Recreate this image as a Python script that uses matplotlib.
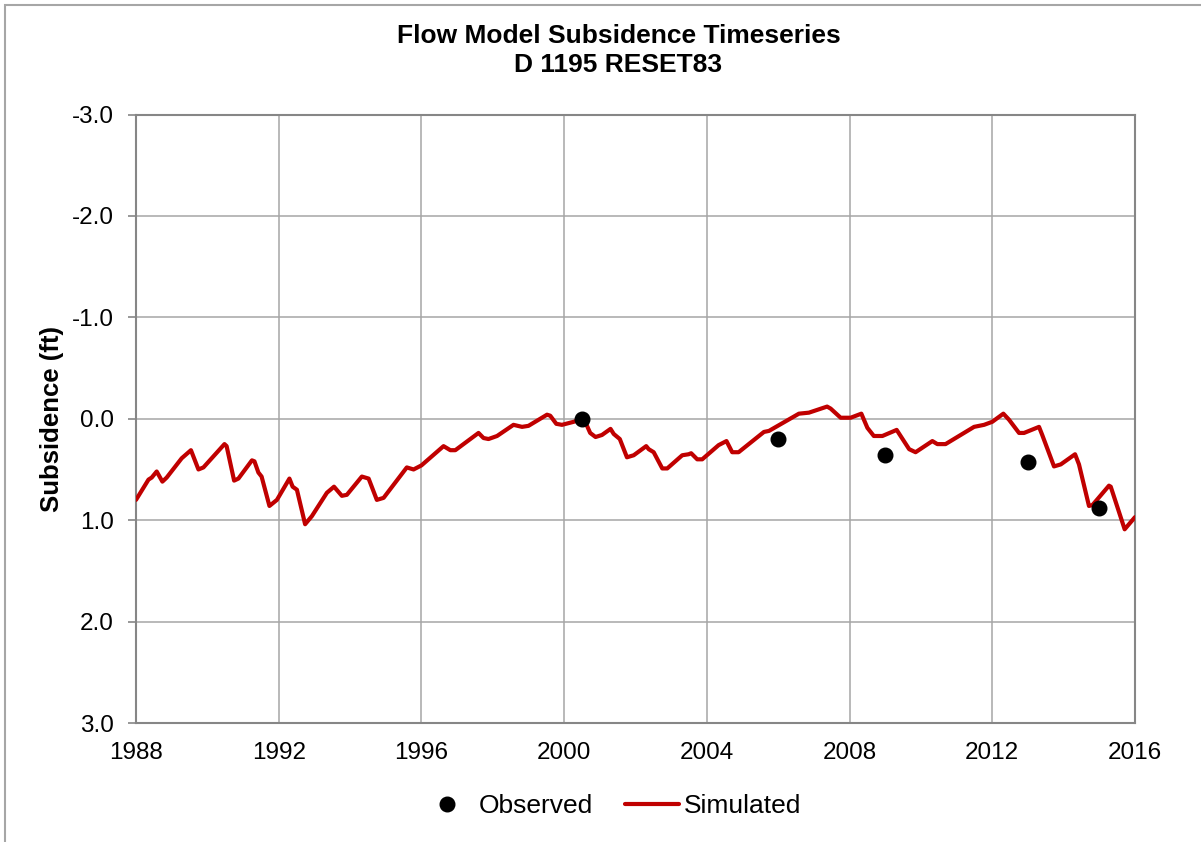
import matplotlib.pyplot as plt
from matplotlib.patches import Rectangle
from matplotlib.ticker import FormatStrFormatter

plt.rcParams['font.family'] = ['Liberation Sans', 'DejaVu Sans']

# simulated subsidence (decimal year, ft)
sim_year = [1988.0, 1988.35, 1988.44, 1988.58, 1988.74, 1988.86, 1989.28, 1989.54,
            1989.75, 1989.89, 1990.48, 1990.54, 1990.75, 1990.87, 1991.25, 1991.32,
            1991.43, 1991.52, 1991.74, 1991.95, 1992.30, 1992.39, 1992.51, 1992.74,
            1992.93, 1993.35, 1993.55, 1993.77, 1993.91, 1994.33, 1994.52, 1994.75,
            1994.94, 1995.59, 1995.78, 1996.0, 1996.62, 1996.81, 1996.95, 1997.60,
            1997.74, 1997.88, 1998.12, 1998.58, 1998.82, 1999.0, 1999.52, 1999.61,
            1999.78, 1999.94, 2000.27, 2000.50, 2000.59, 2000.73, 2000.88, 2001.06,
            2001.30, 2001.39, 2001.56, 2001.76, 2001.95, 2002.30, 2002.37, 2002.51,
            2002.75, 2002.89, 2003.31, 2003.49, 2003.56, 2003.73, 2003.87, 2004.33,
            2004.55, 2004.71, 2004.89, 2005.60, 2005.74, 2006.58, 2006.86, 2007.37,
            2007.47, 2007.75, 2008.03, 2008.33, 2008.50, 2008.68, 2008.92, 2009.32,
            2009.67, 2009.85, 2010.32, 2010.46, 2010.69, 2011.49, 2011.77, 2012.00,
            2012.31, 2012.47, 2012.75, 2012.89, 2013.31, 2013.40, 2013.73, 2013.92,
            2014.32, 2014.43, 2014.71, 2014.81, 2015.27, 2015.32, 2015.71, 2016.0]
sim_val = [0.80, 0.60, 0.58, 0.52, 0.62, 0.58, 0.39, 0.31,
           0.50, 0.48, 0.25, 0.27, 0.61, 0.59, 0.41, 0.42,
           0.53, 0.57, 0.86, 0.80, 0.59, 0.67, 0.70, 1.04,
           0.96, 0.73, 0.67, 0.76, 0.75, 0.57, 0.59, 0.80,
           0.78, 0.48, 0.50, 0.46, 0.27, 0.31, 0.31, 0.14,
           0.19, 0.20, 0.17, 0.06, 0.08, 0.07, -0.04, -0.03,
           0.05, 0.06, 0.03, 0.00, 0.03, 0.14, 0.18, 0.16,
           0.10, 0.15, 0.20, 0.38, 0.36, 0.27, 0.30, 0.33,
           0.49, 0.49, 0.36, 0.35, 0.34, 0.40, 0.40, 0.26,
           0.22, 0.33, 0.33, 0.13, 0.12, -0.05, -0.06, -0.12,
           -0.10, -0.01, -0.01, -0.05, 0.09, 0.17, 0.17, 0.11,
           0.30, 0.33, 0.22, 0.25, 0.25, 0.08, 0.06, 0.03,
           -0.05, 0.01, 0.14, 0.14, 0.08, 0.16, 0.47, 0.45,
           0.35, 0.45, 0.86, 0.85, 0.66, 0.67, 1.09, 0.97]

# observed survey points
obs_year = [2000.5, 2006.0, 2009.0, 2013.0, 2015.0]
obs_val = [0.00, 0.20, 0.36, 0.43, 0.88]

x_ticks = list(range(1988, 2017, 4))
y_ticks = [-3, -2, -1, 0, 1, 2, 3]

fig = plt.figure(figsize=(12.01, 8.42), dpi=100)
ax = fig.add_axes([136 / 1201, 1 - 723 / 842, 999 / 1201, 608.5 / 842])

# outer chart frame (only left/top edges show in the crop)
fig.patches.append(Rectangle((5 / 1201, -0.1), 2.0, 1.1 - 5 / 842, transform=fig.transFigure,
                             fill=False, edgecolor='#a6a6a6', linewidth=1.5))

ax.plot(obs_year, obs_val, 'o', color='black', markersize=10.5, label='Observed', zorder=4)
ax.plot(sim_year, sim_val, color='#c00000', linewidth=3.0, solid_joinstyle='round',
        solid_capstyle='round', label='Simulated', zorder=3)

ax.set_xlim(1988, 2016)
ax.set_ylim(3, -3)
ax.set_xticks(x_ticks)
ax.set_yticks(y_ticks)
ax.yaxis.set_major_formatter(FormatStrFormatter('%.1f'))
ax.grid(True, color='#a6a6a6', linewidth=1.1)
ax.set_axisbelow(True)
for s in ax.spines.values():
    s.set_color('#868686')
    s.set_linewidth(1.5)

ax.tick_params(axis='x', length=0, pad=14, labelsize=17.5)
ax.tick_params(axis='y', length=6, width=1.2, color='#868686', pad=10, labelsize=17.5)

ax.set_ylabel('Subsidence (ft)', fontsize=18.5, fontweight='bold')
ax.yaxis.set_label_coords(-0.072, 0.5)

fig.text(0.515, 1 - 36 / 842, 'Flow Model Subsidence Timeseries', ha='center', va='center',
         fontsize=19, fontweight='bold')
fig.text(0.515, 1 - 65.5 / 842, 'D 1195 RESET83', ha='center', va='center',
         fontsize=19, fontweight='bold')

ax.legend(loc='center', bbox_to_anchor=(0.475, -0.1364), ncol=2, frameon=False,
          fontsize=19, handlelength=2.05, handletextpad=0.2, columnspacing=1.2)

fig.savefig('out.png', dpi=100)
